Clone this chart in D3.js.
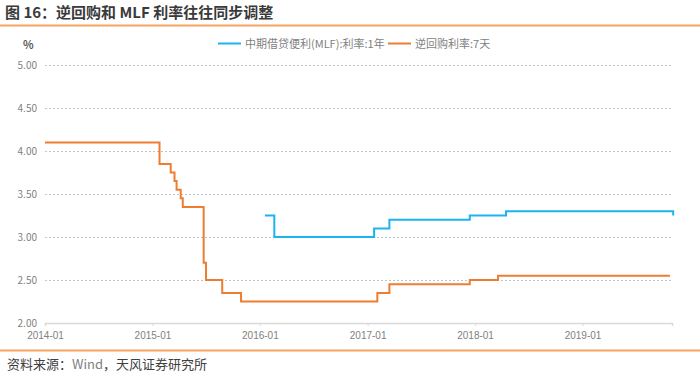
<!DOCTYPE html>
<html>
<head>
<meta charset="utf-8">
<script src="https://cdn.jsdelivr.net/npm/d3@7"></script>
<style>
  body { margin: 0; background: #fff; }
  svg { display: block; font-family: "Noto Sans CJK SC", "Noto Sans", sans-serif; }
</style>
</head>
<body>
<svg id="chart" width="700" height="375"></svg>
<script>
// step series, each entry is [date, value]; value holds until next date
var repoDates = ["2014-01-01","2015-01-25","2015-03-04","2015-03-17","2015-03-24","2015-04-07","2015-04-14",
                 "2015-06-24","2015-07-02","2015-08-26","2015-10-29","2017-02-03","2017-03-16",
                 "2017-12-14","2018-03-20","2019-10-25"]
var repoValues = [4.10,3.85,3.75,3.65,3.55,3.45,3.35,2.70,2.50,2.35,2.25,2.35,2.45,2.50,2.55,2.55]

var mlfDates = ["2016-01-18","2016-02-19","2017-01-23","2017-03-16","2017-12-14","2018-04-16","2019-11-05","2019-11-05"]
var mlfValues = [3.25,3.00,3.10,3.20,3.25,3.30,3.30,3.25]

var yTicks = [2.00,2.50,3.00,3.50,4.00,4.50,5.00]
var xTickLabels = ["2014-01","2015-01","2016-01","2017-01","2018-01","2019-01"]
var legendNames = ["中期借贷便利(MLF):利率:1年","逆回购利率:7天"]
var colors = ["#1cb4ef","#ed7d31"]

var parse = d3.timeParse("%Y-%m-%d")
var svg = d3.select("#chart")

var x = d3.scaleTime()
    .domain([parse("2014-01-01"), parse("2019-11-01")])
    .range([45, 672])
var y = d3.scaleLinear().domain([2, 5]).range([323, 65])

// title + header rule
svg.append("text").attr("x", 5).attr("y", 18)
    .style("font-size", "15px").style("font-weight", "bold").style("fill", "#3a3a3a")
    .text("图 16：逆回购和 MLF 利率往往同步调整")
svg.append("line").attr("x1", 0).attr("x2", 700).attr("y1", 25.5).attr("y2", 25.5)
    .style("stroke", "#f4a460").style("stroke-width", 2)

// y grid
svg.append("g").selectAll("line").data(yTicks.filter(function(d) { return d > 2 }))
    .enter().append("line")
    .attr("x1", 45).attr("x2", 672)
    .attr("y1", function(d) { return Math.round(y(d)) + 0.5 })
    .attr("y2", function(d) { return Math.round(y(d)) + 0.5 })
    .style("stroke", "#c4c4c4").style("stroke-dasharray", "2,2").style("stroke-width", 1)

svg.append("g").selectAll("text").data(yTicks).enter().append("text")
    .attr("x", 37).attr("y", function(d) { return y(d) + 3.5 })
    .attr("text-anchor", "end")
    .style("font-size", "10px").style("fill", "#7f7f7f")
    .text(function(d) { return d3.format(".2f")(d) })

svg.append("text").attr("x", 23).attr("y", 49)
    .style("font-size", "11px").style("font-weight", "bold").style("fill", "#595959")
    .text("%")

// x axis
var xAxis = d3.axisBottom(x)
    .tickValues(xTickLabels.map(function(s) { return parse(s + "-01") }))
    .tickFormat(d3.timeFormat("%Y-%m"))
    .tickSize(3).tickPadding(6)
var gx = svg.append("g").attr("transform", "translate(0,323)").call(xAxis)
gx.select(".domain").style("stroke", "#d9d9d9").style("stroke-width", 1.5)
gx.selectAll(".tick line").style("stroke", "#d9d9d9")
gx.selectAll(".tick text").style("font-size", "10px").style("fill", "#7f7f7f")
    .style("font-family", "Liberation Sans, sans-serif")

// lines
var line = d3.line()
    .x(function(d) { return x(d[0]) })
    .y(function(d) { return y(d[1]) })
    .curve(d3.curveStepAfter)

var repo = repoDates.map(function(d, i) { return [parse(d), repoValues[i]] })
var mlf = mlfDates.map(function(d, i) { return [parse(d), mlfValues[i]] })

svg.append("path").datum(mlf).attr("d", line)
    .style("fill", "none").style("stroke", colors[0]).style("stroke-width", 2)
svg.append("path").datum(repo).attr("d", line)
    .style("fill", "none").style("stroke", colors[1]).style("stroke-width", 2)

// legend
var legendX = [218, 388]
legendNames.forEach(function(name, i) {
    svg.append("line").attr("x1", legendX[i]).attr("x2", legendX[i] + 23)
        .attr("y1", 43.5).attr("y2", 43.5)
        .style("stroke", colors[i]).style("stroke-width", 2)
    svg.append("text").attr("x", legendX[i] + 27).attr("y", 47.5)
        .style("font-size", "11px").style("fill", "#7f7f7f")
        .text(name)
})

// footer
svg.append("line").attr("x1", 0).attr("x2", 700).attr("y1", 350.5).attr("y2", 350.5)
    .style("stroke", "#f4a460").style("stroke-width", 2)
var src = svg.append("text").attr("x", 7).attr("y", 369)
    .style("font-size", "13px").style("fill", "#404040")
src.append("tspan").text("资料来源：")
src.append("tspan").style("fill", "#7f7f7f").text("Wind")
src.append("tspan").text("，天风证券研究所")
</script>
</body>
</html>
